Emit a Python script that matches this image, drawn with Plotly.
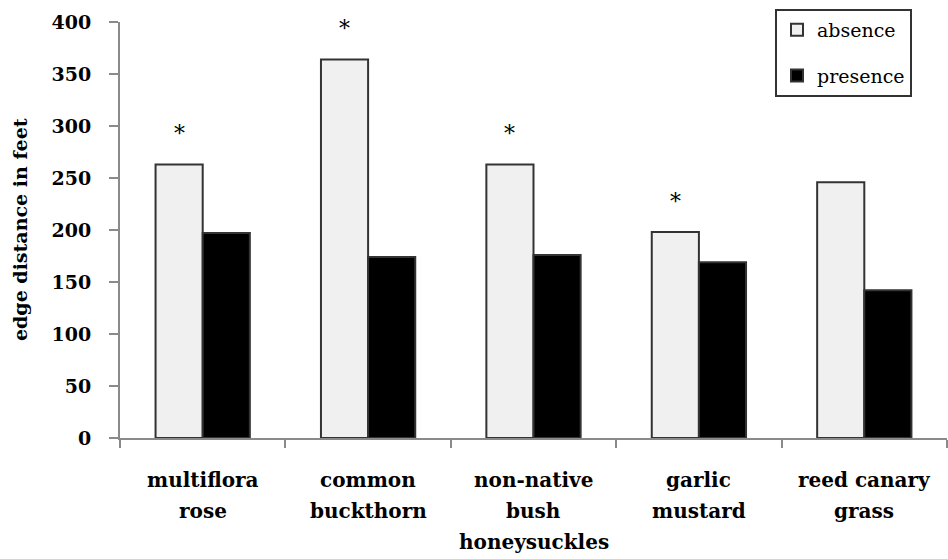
import plotly.graph_objects as go

# Data
categories = ["multiflora rose", "common buckthorn", "non-native bush honeysuckles",
              "garlic mustard", "reed canary grass"]
label_lines = [["multiflora", "rose"], ["common", "buckthorn"],
               ["non-native", "bush", "honeysuckles"], ["garlic", "mustard"],
               ["reed canary", "grass"]]
absence = [263, 364, 263, 198, 246]
presence = [197, 174, 176, 169, 142]
significant = [True, True, True, True, False]

# Layout geometry
W, H = 948, 559
M_LEFT, M_RIGHT, M_TOP, M_BOTTOM = 120, 1, 22, 121
BARGAP = 0.43
plot_w = W - M_LEFT - M_RIGHT
cat_w = plot_w / len(categories)
bar_w = cat_w * (1 - BARGAP) / 2

AXIS_COLOR = "#8a8a8a"
EDGE = "#333333"
LABEL_FONT = dict(family="DejaVu Serif", size=20, color="black", weight="bold")

fig = go.Figure()
fig.add_trace(go.Bar(
    x=categories, y=absence, name="absence", legendgroup="a",
    marker=dict(color="#f0f0f0", line=dict(color=EDGE, width=2)),
))
fig.add_trace(go.Bar(
    x=categories, y=presence, name="presence", legendgroup="p",
    marker=dict(color="#000000", line=dict(color=EDGE, width=2)),
))

annotations = []
# significance markers over the absence bars
for cat, val, sig in zip(categories, absence, significant):
    if sig:
        annotations.append(dict(
            x=cat, y=val, xref="x", yref="y", text="*", showarrow=False,
            xanchor="center", yanchor="middle", xshift=-bar_w / 2, yshift=31,
            font=dict(family="DejaVu Serif", size=22, color="black"),
        ))
# category labels, one line each
for cat, lines in zip(categories, label_lines):
    for i, line in enumerate(lines):
        annotations.append(dict(
            x=cat, y=0, xref="x", yref="paper", text=line, showarrow=False,
            xanchor="center", yanchor="middle", yshift=-(42 + 31 * i),
            font=LABEL_FONT,
        ))
# y-axis title
annotations.append(dict(
    x=0, y=0.5, xref="paper", yref="paper", text="edge distance in feet",
    textangle=-90, showarrow=False, xanchor="center", yanchor="middle",
    xshift=-100,
    font=dict(family="DejaVu Serif", size=19, color="black", weight="bold"),
))

fig.update_layout(
    width=W, height=H,
    margin=dict(l=M_LEFT, r=M_RIGHT, t=M_TOP, b=M_BOTTOM, pad=0),
    paper_bgcolor="white", plot_bgcolor="white",
    barmode="group", bargap=BARGAP, bargroupgap=0,
    showlegend=True,
    legend=dict(
        x=(775 - M_LEFT) / plot_w, y=1 + (M_TOP - 9) / (H - M_TOP - M_BOTTOM),
        xanchor="left", yanchor="top",
        bgcolor="white", bordercolor=EDGE, borderwidth=2,
        font=dict(family="DejaVu Serif", size=19, color="black"),
        traceorder="grouped", tracegroupgap=18,
        itemwidth=30,
    ),
    annotations=annotations,
)
fig.update_xaxes(
    type="category", showticklabels=False, showline=True, linecolor=AXIS_COLOR,
    linewidth=2, ticks="outside", tickson="boundaries", ticklen=8,
    tickcolor=AXIS_COLOR, tickwidth=2, showgrid=False, zeroline=False,
)
fig.update_yaxes(
    range=[0, 400], dtick=50, tick0=0, showline=True, linecolor=AXIS_COLOR,
    linewidth=2, ticks="outside", ticklen=9, tickcolor=AXIS_COLOR, tickwidth=2,
    showgrid=False, zeroline=False, ticklabelstandoff=14,
    tickfont=dict(family="DejaVu Serif", size=19, color="black", weight="bold"),
)

fig.write_html("out.html")
